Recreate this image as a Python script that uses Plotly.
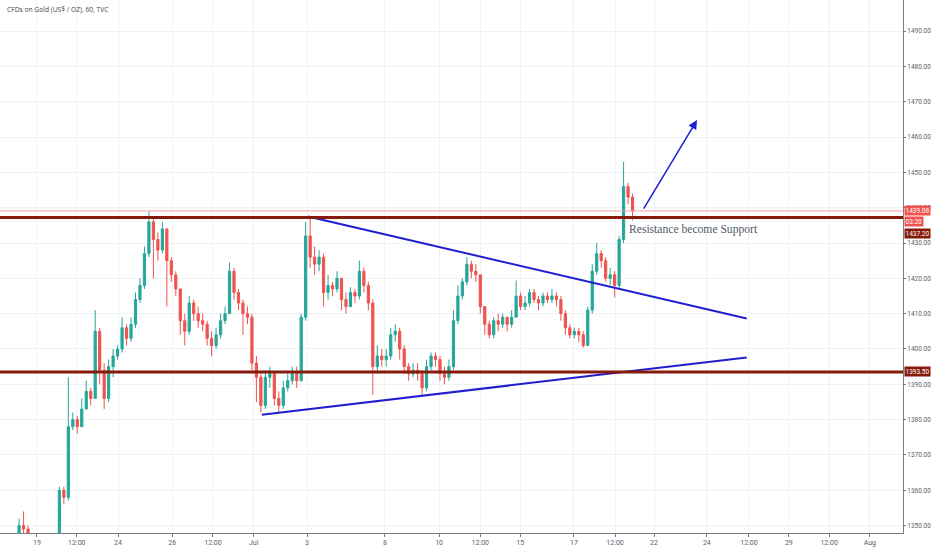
import plotly.graph_objects as go

# 4-hour-ish bars (index 0 = first bar at the left edge)
closes = [1343, 1344, 1343, 1344, 1350, 1349, 1346, 1345, 1344, 1343,
          1344, 1343, 1346, 1360, 1358, 1378, 1380, 1378, 1383, 1388,
          1386, 1405, 1394, 1386, 1395, 1398, 1400, 1406, 1403, 1407,
          1414, 1418, 1427, 1436, 1431, 1428, 1434, 1425, 1421, 1417,
          1408, 1405, 1413, 1410, 1408, 1407, 1403, 1401, 1404, 1408,
          1410, 1422, 1416, 1413, 1410, 1409, 1396, 1392, 1384, 1392,
          1393, 1386, 1384, 1389, 1391, 1393, 1391, 1409, 1432, 1426,
          1424, 1426, 1416, 1418, 1417, 1420, 1414, 1412, 1416, 1415,
          1422, 1418, 1413, 1395, 1398, 1397, 1398, 1404, 1405, 1400,
          1395, 1393, 1394, 1393, 1389, 1395, 1398, 1397, 1393, 1392,
          1395, 1408, 1415, 1419, 1424, 1422, 1421, 1412, 1407, 1404,
          1408, 1407, 1409, 1407, 1409, 1415, 1412, 1413, 1416, 1414,
          1413, 1415, 1414, 1415, 1414, 1410, 1406, 1404, 1405, 1404,
          1401, 1411, 1422, 1427, 1425, 1420, 1421, 1418, 1431, 1446,
          1443, 1439.08]
highs = [1345, 1346, 1345, 1346, 1352, 1354, 1350, 1347, 1346, 1345,
         1345, 1345, 1347, 1361, 1361, 1392, 1382, 1381, 1386, 1391,
         1389, 1411, 1406, 1396, 1397, 1400, 1401, 1409, 1407, 1409,
         1416, 1420, 1429, 1439, 1437, 1433, 1436, 1434, 1426, 1422,
         1417, 1410, 1415, 1414, 1412, 1410, 1408, 1405, 1406, 1410,
         1412, 1424.5, 1423, 1417, 1414, 1412, 1410, 1398, 1393, 1394,
         1395, 1393, 1388, 1391, 1393, 1395, 1395, 1410, 1436, 1437.5,
         1429, 1428, 1427, 1421, 1419, 1422, 1420, 1416, 1417.5, 1417,
         1425, 1423, 1419, 1414, 1401, 1400, 1400, 1406, 1407, 1406,
         1401, 1396, 1396, 1396, 1394, 1397, 1399, 1399, 1398, 1395,
         1397, 1411, 1418, 1420, 1426, 1425, 1424, 1421, 1412, 1408,
         1409, 1410, 1410, 1409, 1411, 1419.4, 1416, 1415, 1417, 1417,
         1415, 1416, 1416, 1417, 1416, 1415, 1411, 1407, 1406, 1406,
         1405, 1412, 1424, 1430, 1428, 1426, 1423, 1422, 1432, 1453,
         1447, 1444]
lows = [1341, 1342, 1341, 1342, 1345, 1347, 1344, 1343, 1342, 1341,
        1342, 1341, 1343, 1344, 1356, 1357, 1377, 1376, 1379, 1383,
        1384, 1386, 1390, 1383, 1385, 1392, 1397, 1399, 1401, 1402,
        1406, 1413, 1417, 1426, 1420, 1425, 1427, 1412, 1419, 1415,
        1404, 1401, 1404, 1408, 1406, 1405, 1401, 1398, 1400, 1403,
        1407, 1410, 1414, 1411, 1404, 1407, 1394, 1385, 1382, 1383,
        1389, 1384, 1382, 1383, 1388, 1390, 1389, 1391, 1408, 1423,
        1421, 1422, 1412, 1414, 1415, 1416, 1411, 1410, 1412, 1413,
        1414, 1416, 1411, 1387, 1393, 1395, 1395, 1397, 1402, 1397,
        1393, 1391, 1392, 1391, 1386.5, 1388, 1394, 1395, 1391, 1390,
        1391, 1394, 1407, 1414, 1418, 1420, 1419, 1410, 1404, 1403,
        1403, 1405, 1406, 1405, 1406, 1409, 1411, 1411, 1412, 1413,
        1411, 1412, 1413, 1413, 1412, 1408, 1404, 1403, 1403, 1402,
        1400.4, 1401, 1410, 1421, 1423, 1419, 1418, 1414.6, 1417, 1430,
        1441, 1436.4]
opens = [1344] + closes[:-1]
bars = list(range(len(closes)))

# date labels along the time axis (positions in bar units)
tick_pos = [8, 16.9, 26.1, 38.2, 47.3, 56.4, 68.3, 85.7, 97.8, 107, 115.9,
            127.9, 137.1, 145.8, 157.6, 167, 175.9, 184.9, 194]
tick_text = ["19", "12:00", "24", "26", "12:00", "Jul", "3", "8", "10", "12:00",
             "15", "17", "12:00", "22", "24", "12:00", "29", "12:00", "Aug"]

# horizontal levels
resistance = 1437.20
support = 1393.50
last_price = 1439.08

# drawn trend lines (bar index, price)
upper_x = [68.5, 166.5]
upper_y = [1437.5, 1408.65]
lower_x = [58.2, 166.5]
lower_y = [1381.4, 1397.6]
arrow_x = [143.3, 155.4]
arrow_y = [1439.3, 1464.8]

GREEN = "#26a69a"
RED = "#ef5350"
MAROON = "#861a0b"
BLUE = "#1f1fd0"

fig = go.Figure()
fig.add_trace(go.Candlestick(
    x=bars, open=opens, high=highs, low=lows, close=closes,
    increasing=dict(line=dict(color=GREEN, width=1), fillcolor=GREEN),
    decreasing=dict(line=dict(color=RED, width=1), fillcolor=RED),
    whiskerwidth=0, showlegend=False, hoverinfo="skip"))

fig.add_trace(go.Scatter(x=upper_x, y=upper_y, mode="lines",
                         line=dict(color=BLUE, width=2), showlegend=False))
fig.add_trace(go.Scatter(x=lower_x, y=lower_y, mode="lines",
                         line=dict(color=BLUE, width=2), showlegend=False))

fig.add_hline(y=last_price, line=dict(color="#f2a0a0", width=1))
fig.add_hline(y=resistance, line=dict(color=MAROON, width=3))
fig.add_hline(y=support, line=dict(color=MAROON, width=3))

fig.add_annotation(x=arrow_x[1], y=arrow_y[1], ax=arrow_x[0], ay=arrow_y[0],
                   xref="x", yref="y", axref="x", ayref="y", text="",
                   showarrow=True, arrowhead=2, arrowsize=1.2, arrowwidth=1.5,
                   arrowcolor=BLUE)

fig.add_annotation(x=arrow_x[0] - 3.5, y=resistance, xref="x", yref="y",
                   text="Resistance become Support", showarrow=False,
                   xanchor="left", yanchor="top", yshift=-3,
                   font=dict(family="Liberation Serif", size=11.6, color="#4f5b66"))

fig.add_annotation(x=0.006, y=0.994, xref="paper", yref="paper",
                   text="CFDs on Gold (US$ / OZ), 60, TVC", showarrow=False,
                   xanchor="left", yanchor="top",
                   font=dict(family="Open Sans", size=6.7, color="#434651"))

# price tags on the right scale
tags = [(last_price, "1439.08", RED, 0), (last_price, "03:20", RED, -11),
        (resistance, "1437.20", MAROON, -16), (support, "1393.50", MAROON, 0)]
for val, txt, bg, shift in tags:
    fig.add_annotation(x=1.0, y=val, xref="paper", yref="y", text=txt,
                       showarrow=False, xanchor="left", yshift=shift, xshift=1,
                       bgcolor=bg, borderpad=0.5,
                       font=dict(family="Roboto", size=6.5, color="white"))

fig.update_layout(
    width=932, height=550,
    margin=dict(l=0, r=29, t=0, b=17, autoexpand=False),
    paper_bgcolor="white", plot_bgcolor="white",
    font=dict(family="Roboto", size=7, color="#5d606b"),
    hovermode=False,
)
fig.update_xaxes(range=[-0.26, 201.4], rangeslider_visible=False,
                 tickmode="array", tickvals=tick_pos, ticktext=tick_text,
                 tickfont=dict(size=7),
                 showgrid=True, gridcolor="#eef1f6", zeroline=False,
                 showline=True, linecolor="#787b86", linewidth=1,
                 ticks="outside", ticklen=3, tickcolor="#787b86",
                 automargin=False)
fig.update_yaxes(range=[1347.9, 1498.8], side="right", dtick=10,
                 tick0=1350, tickformat=".2f", tickfont=dict(size=6.5),
                 showgrid=True, gridcolor="#eef1f6", zeroline=False,
                 showline=True, linecolor="#787b86", linewidth=1,
                 ticks="outside", ticklen=2, tickcolor="#787b86",
                 automargin=False)

fig.write_html("out.html", config={"displayModeBar": False},
               post_script="document.body.style.margin='0';"
                           "document.body.style.overflow='hidden';")
